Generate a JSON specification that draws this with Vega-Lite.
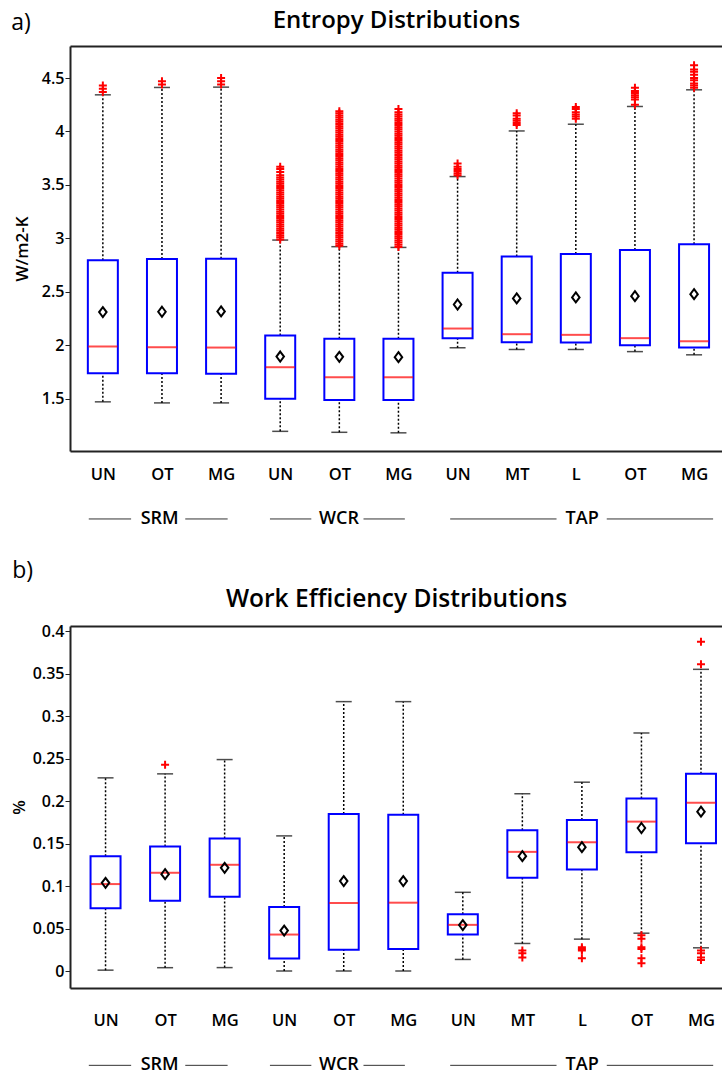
{
"$schema": "https://vega.github.io/schema/vega-lite/v6.json",
"background": "white",
"padding": {"left": 10, "top": 8, "right": 0, "bottom": 0},
"datasets": {
"a": [
{"p":1,"lw":1.47,"q1":1.738,"med":1.988,"q3":2.794,"uw":4.343,"mean":2.31},
{"p":2,"lw":1.46,"q1":1.738,"med":1.981,"q3":2.806,"uw":4.412,"mean":2.313},
{"p":3,"lw":1.46,"q1":1.732,"med":1.978,"q3":2.81,"uw":4.415,"mean":2.316},
{"p":4,"lw":1.194,"q1":1.5,"med":1.794,"q3":2.091,"uw":2.984,"mean":1.894},
{"p":5,"lw":1.185,"q1":1.488,"med":1.7,"q3":2.06,"uw":2.922,"mean":1.891},
{"p":6,"lw":1.18,"q1":1.488,"med":1.7,"q3":2.06,"uw":2.915,"mean":1.888},
{"p":7,"lw":1.976,"q1":2.066,"med":2.156,"q3":2.678,"uw":3.578,"mean":2.381},
{"p":8,"lw":1.96,"q1":2.028,"med":2.103,"q3":2.831,"uw":4.005,"mean":2.438},
{"p":9,"lw":1.96,"q1":2.025,"med":2.097,"q3":2.853,"uw":4.068,"mean":2.447},
{"p":10,"lw":1.94,"q1":2.0,"med":2.066,"q3":2.89,"uw":4.234,"mean":2.459},
{"p":11,"lw":1.91,"q1":1.978,"med":2.037,"q3":2.944,"uw":4.39,"mean":2.478}
],
"ao": [
{"p":1,"v":4.37},{"p":1,"v":4.40},{"p":1,"v":4.43},
{"p":2,"v":4.44},{"p":2,"v":4.47},
{"p":3,"v":4.44},{"p":3,"v":4.47},{"p":3,"v":4.50},
{"p":4,"v":2.99},{"p":4,"v":3.01},{"p":4,"v":3.03},{"p":4,"v":3.05},{"p":4,"v":3.07},{"p":4,"v":3.09},{"p":4,"v":3.11},{"p":4,"v":3.13},{"p":4,"v":3.15},{"p":4,"v":3.17},{"p":4,"v":3.19},{"p":4,"v":3.21},{"p":4,"v":3.23},{"p":4,"v":3.25},{"p":4,"v":3.27},{"p":4,"v":3.29},{"p":4,"v":3.31},{"p":4,"v":3.33},{"p":4,"v":3.35},{"p":4,"v":3.37},{"p":4,"v":3.39},{"p":4,"v":3.41},{"p":4,"v":3.43},{"p":4,"v":3.45},{"p":4,"v":3.47},{"p":4,"v":3.49},{"p":4,"v":3.51},{"p":4,"v":3.53},{"p":4,"v":3.55},{"p":4,"v":3.57},{"p":4,"v":3.59},{"p":4,"v":3.62},{"p":4,"v":3.65},{"p":4,"v":3.67},
{"p":5,"v":2.93},{"p":5,"v":2.95},{"p":5,"v":2.97},{"p":5,"v":2.99},{"p":5,"v":3.01},{"p":5,"v":3.03},{"p":5,"v":3.05},{"p":5,"v":3.07},{"p":5,"v":3.09},{"p":5,"v":3.11},{"p":5,"v":3.13},{"p":5,"v":3.15},{"p":5,"v":3.17},{"p":5,"v":3.19},{"p":5,"v":3.21},{"p":5,"v":3.23},{"p":5,"v":3.25},{"p":5,"v":3.27},{"p":5,"v":3.29},{"p":5,"v":3.31},{"p":5,"v":3.33},{"p":5,"v":3.35},{"p":5,"v":3.37},{"p":5,"v":3.39},{"p":5,"v":3.41},{"p":5,"v":3.43},{"p":5,"v":3.45},{"p":5,"v":3.47},{"p":5,"v":3.49},{"p":5,"v":3.51},{"p":5,"v":3.53},{"p":5,"v":3.55},{"p":5,"v":3.57},{"p":5,"v":3.59},{"p":5,"v":3.61},{"p":5,"v":3.63},{"p":5,"v":3.65},{"p":5,"v":3.67},{"p":5,"v":3.69},{"p":5,"v":3.71},{"p":5,"v":3.73},{"p":5,"v":3.75},{"p":5,"v":3.77},{"p":5,"v":3.79},{"p":5,"v":3.81},{"p":5,"v":3.83},{"p":5,"v":3.85},{"p":5,"v":3.87},{"p":5,"v":3.89},{"p":5,"v":3.91},{"p":5,"v":3.93},{"p":5,"v":3.95},{"p":5,"v":3.97},{"p":5,"v":3.99},{"p":5,"v":4.01},{"p":5,"v":4.03},{"p":5,"v":4.05},{"p":5,"v":4.07},{"p":5,"v":4.09},{"p":5,"v":4.11},{"p":5,"v":4.13},{"p":5,"v":4.15},{"p":5,"v":4.17},{"p":5,"v":4.19},
{"p":6,"v":2.92},{"p":6,"v":2.94},{"p":6,"v":2.96},{"p":6,"v":2.98},{"p":6,"v":3.00},{"p":6,"v":3.02},{"p":6,"v":3.04},{"p":6,"v":3.06},{"p":6,"v":3.08},{"p":6,"v":3.10},{"p":6,"v":3.12},{"p":6,"v":3.14},{"p":6,"v":3.16},{"p":6,"v":3.18},{"p":6,"v":3.20},{"p":6,"v":3.22},{"p":6,"v":3.24},{"p":6,"v":3.26},{"p":6,"v":3.28},{"p":6,"v":3.30},{"p":6,"v":3.32},{"p":6,"v":3.34},{"p":6,"v":3.36},{"p":6,"v":3.38},{"p":6,"v":3.40},{"p":6,"v":3.42},{"p":6,"v":3.44},{"p":6,"v":3.46},{"p":6,"v":3.48},{"p":6,"v":3.50},{"p":6,"v":3.52},{"p":6,"v":3.54},{"p":6,"v":3.56},{"p":6,"v":3.58},{"p":6,"v":3.60},{"p":6,"v":3.62},{"p":6,"v":3.64},{"p":6,"v":3.66},{"p":6,"v":3.68},{"p":6,"v":3.70},{"p":6,"v":3.72},{"p":6,"v":3.74},{"p":6,"v":3.76},{"p":6,"v":3.78},{"p":6,"v":3.80},{"p":6,"v":3.82},{"p":6,"v":3.84},{"p":6,"v":3.86},{"p":6,"v":3.88},{"p":6,"v":3.90},{"p":6,"v":3.92},{"p":6,"v":3.94},{"p":6,"v":3.96},{"p":6,"v":3.98},{"p":6,"v":4.00},{"p":6,"v":4.02},{"p":6,"v":4.04},{"p":6,"v":4.06},{"p":6,"v":4.08},{"p":6,"v":4.10},{"p":6,"v":4.12},{"p":6,"v":4.14},{"p":6,"v":4.16},{"p":6,"v":4.18},{"p":6,"v":4.21},
{"p":7,"v":3.59},{"p":7,"v":3.61},{"p":7,"v":3.63},{"p":7,"v":3.65},{"p":7,"v":3.67},{"p":7,"v":3.70},
{"p":8,"v":4.06},{"p":8,"v":4.08},{"p":8,"v":4.10},{"p":8,"v":4.12},{"p":8,"v":4.15},{"p":8,"v":4.17},
{"p":9,"v":4.12},{"p":9,"v":4.14},{"p":9,"v":4.16},{"p":9,"v":4.18},{"p":9,"v":4.21},{"p":9,"v":4.23},
{"p":10,"v":4.25},{"p":10,"v":4.30},{"p":10,"v":4.32},{"p":10,"v":4.34},{"p":10,"v":4.36},{"p":10,"v":4.38},{"p":10,"v":4.41},
{"p":11,"v":4.41},{"p":11,"v":4.43},{"p":11,"v":4.45},{"p":11,"v":4.48},{"p":11,"v":4.50},{"p":11,"v":4.53},{"p":11,"v":4.56},{"p":11,"v":4.58},{"p":11,"v":4.62}
],
"b": [
{"p":1,"lw":0.001,"q1":0.0738,"med":0.1023,"q3":0.1351,"uw":0.2273,"mean":0.1038},
{"p":2,"lw":0.0039,"q1":0.0827,"med":0.1156,"q3":0.1465,"uw":0.232,"mean":0.114},
{"p":3,"lw":0.004,"q1":0.0875,"med":0.125,"q3":0.1559,"uw":0.2488,"mean":0.1214},
{"p":4,"lw":0.0,"q1":0.0148,"med":0.0429,"q3":0.0754,"uw":0.159,"mean":0.0476},
{"p":5,"lw":0.0,"q1":0.025,"med":0.08,"q3":0.1847,"uw":0.317,"mean":0.1058},
{"p":6,"lw":0.0,"q1":0.0258,"med":0.0804,"q3":0.184,"uw":0.317,"mean":0.1058},
{"p":7,"lw":0.0136,"q1":0.0429,"med":0.0543,"q3":0.0668,"uw":0.0926,"mean":0.054},
{"p":8,"lw":0.0324,"q1":0.1097,"med":0.1402,"q3":0.1656,"uw":0.2086,"mean":0.1351},
{"p":9,"lw":0.0375,"q1":0.1195,"med":0.1515,"q3":0.1777,"uw":0.2222,"mean":0.1457},
{"p":10,"lw":0.0445,"q1":0.1398,"med":0.1758,"q3":0.2031,"uw":0.2801,"mean":0.1683},
{"p":11,"lw":0.0273,"q1":0.1504,"med":0.198,"q3":0.232,"uw":0.355,"mean":0.1875}
],
"bo": [
{"p":2,"v":0.2426},
{"p":8,"v":0.024},{"p":8,"v":0.021},{"p":8,"v":0.016},
{"p":9,"v":0.028},{"p":9,"v":0.026},{"p":9,"v":0.024},{"p":9,"v":0.015},
{"p":10,"v":0.042},{"p":10,"v":0.038},{"p":10,"v":0.028},{"p":10,"v":0.026},{"p":10,"v":0.015},{"p":10,"v":0.009},
{"p":11,"v":0.361},{"p":11,"v":0.3875},{"p":11,"v":0.024},{"p":11,"v":0.021},{"p":11,"v":0.016},{"p":11,"v":0.013}
],
"ga": [
{"name":"SRM","c":1.961,"l1":0.762,"l2":1.478,"r1":2.394,"r2":3.111},
{"name":"WCR","c":4.993,"l1":3.827,"l2":4.526,"r1":5.409,"r2":6.108},
{"name":"TAP","c":9.107,"l1":6.875,"l2":8.674,"r1":9.523,"r2":11.322}
],
"gb": [
{"name":"SRM","c":1.909,"l1":0.719,"l2":1.430,"r1":2.339,"r2":3.050},
{"name":"WCR","c":4.919,"l1":3.761,"l2":4.456,"r1":5.332,"r2":6.027},
{"name":"TAP","c":9.004,"l1":6.788,"l2":8.574,"r1":9.418,"r2":11.205}
]
},
"vconcat": [
{
"width": 652, "height": 405,
"title": {"text": "a)", "anchor": "start", "frame": "bounds", "fontSize": 23, "fontWeight": 400, "dy": 27, "dx": -2, "offset": 0},
"layer": [
{"data": {"name": "a"}, "mark": {"type": "rule", "strokeDash": [2, 2], "strokeWidth": 1.5, "color": "#000"},
 "encoding": {
  "x": {"field": "p", "type": "quantitative", "scale": {"domain": [0.529, 11.388], "nice": false, "zero": false},
        "axis": {"orient": "bottom", "values": [1,2,3,4,5,6,7,8,9,10,11], "labelExpr": "['UN','OT','MG','UN','OT','MG','UN','MT','L','OT','MG'][datum.value-1]", "ticks": false, "labelPadding": 15, "title": null}},
  "y": {"field": "q3", "type": "quantitative", "scale": {"domain": [1.01, 4.8], "nice": false, "zero": false},
        "axis": {"values": [1.5,2,2.5,3,3.5,4,4.5], "format": "~g", "title": "W/m2-K", "titlePadding": 10, "tickSize": 5, "labelPadding": 1}},
  "y2": {"field": "uw"}}},
{"data": {"name": "a"}, "mark": {"type": "rule", "strokeDash": [2, 2], "strokeWidth": 1.5, "color": "#000"},
 "encoding": {
  "x": {"field": "p", "type": "quantitative", "axis": {"orient": "top", "labels": false, "ticks": false, "title": "Entropy Distributions", "titleFontSize": 24, "titlePadding": 14}},
  "y": {"field": "lw", "type": "quantitative"},
  "y2": {"field": "q1"}}},
{"data": {"name": "a"}, "mark": {"type": "tick", "orient": "horizontal", "size": 16, "thickness": 1.5, "color": "#000"},
 "encoding": {"x": {"field": "p", "type": "quantitative", "axis": null}, "y": {"field": "lw", "type": "quantitative"}}},
{"data": {"name": "a"}, "mark": {"type": "tick", "orient": "horizontal", "size": 16, "thickness": 1.5, "color": "#000"},
 "encoding": {"x": {"field": "p", "type": "quantitative", "axis": null}, "y": {"field": "uw", "type": "quantitative"}}},
{"data": {"name": "a"}, "mark": {"type": "bar", "size": 30, "fill": "#ffffff", "stroke": "#0000ff", "strokeWidth": 2},
 "encoding": {"x": {"field": "p", "type": "quantitative", "axis": null}, "y": {"field": "q1", "type": "quantitative"}, "y2": {"field": "q3"}}},
{"data": {"name": "a"}, "mark": {"type": "tick", "orient": "horizontal", "size": 29, "thickness": 2, "color": "#ff0000"},
 "encoding": {"x": {"field": "p", "type": "quantitative", "axis": null}, "y": {"field": "med", "type": "quantitative"}}},
{"data": {"name": "a"}, "mark": {"type": "point", "shape": "M0,-1L0.75,0L0,1L-0.75,0Z", "size": 100, "filled": false, "color": "#000", "strokeWidth": 2, "opacity": 1},
 "encoding": {"x": {"field": "p", "type": "quantitative", "axis": null}, "y": {"field": "mean", "type": "quantitative"}}},
{"data": {"name": "ao"}, "mark": {"type": "point", "shape": "M-1,0L1,0M0,-1L0,1", "size": 64, "filled": false, "color": "#ff0000", "strokeWidth": 2, "opacity": 1},
 "encoding": {"x": {"field": "p", "type": "quantitative", "axis": null}, "y": {"field": "v", "type": "quantitative"}}},
{"data": {"name": "ga"}, "mark": {"type": "rule", "color": "#333", "strokeWidth": 1},
 "encoding": {"x": {"field": "l1", "type": "quantitative", "axis": null}, "x2": {"field": "l2"}, "y": {"datum": 0.374, "type": "quantitative"}}},
{"data": {"name": "ga"}, "mark": {"type": "rule", "color": "#333", "strokeWidth": 1},
 "encoding": {"x": {"field": "r1", "type": "quantitative", "axis": null}, "x2": {"field": "r2"}, "y": {"datum": 0.374, "type": "quantitative"}}},
{"data": {"name": "ga"}, "mark": {"type": "text", "fontSize": 18, "fontWeight": 600, "baseline": "middle", "color": "#000"},
 "encoding": {"x": {"field": "c", "type": "quantitative", "axis": null}, "y": {"datum": 0.374, "type": "quantitative"}, "text": {"field": "name"}}}
],
"resolve": {"axis": {"x": "independent"}}
},
{
"width": 652, "height": 362,
"title": {"text": "b)", "anchor": "start", "frame": "bounds", "fontSize": 23, "fontWeight": 400, "offset": 6, "dx": 2, "dy": 3},
"layer": [
{"data": {"name": "b"}, "mark": {"type": "rule", "strokeDash": [2, 2], "strokeWidth": 1.5, "color": "#000"},
 "encoding": {
  "x": {"field": "p", "type": "quantitative", "scale": {"domain": [0.487, 11.269], "nice": false, "zero": false},
        "axis": {"orient": "bottom", "values": [1,2,3,4,5,6,7,8,9,10,11], "labelExpr": "['UN','OT','MG','UN','OT','MG','UN','MT','L','OT','MG'][datum.value-1]", "ticks": false, "labelPadding": 24, "title": null}},
  "y": {"field": "q3", "type": "quantitative", "scale": {"domain": [-0.02, 0.406], "nice": false, "zero": false},
        "axis": {"values": [0,0.05,0.1,0.15,0.2,0.25,0.3,0.35,0.4], "format": "~g", "title": "%", "titlePadding": 4, "tickSize": 5, "labelPadding": 1}},
  "y2": {"field": "uw"}}},
{"data": {"name": "b"}, "mark": {"type": "rule", "strokeDash": [2, 2], "strokeWidth": 1.5, "color": "#000"},
 "encoding": {
  "x": {"field": "p", "type": "quantitative", "axis": {"orient": "top", "labels": false, "ticks": false, "title": "Work Efficiency Distributions", "titleFontSize": 24.5, "titlePadding": 15}},
  "y": {"field": "lw", "type": "quantitative"},
  "y2": {"field": "q1"}}},
{"data": {"name": "b"}, "mark": {"type": "tick", "orient": "horizontal", "size": 16, "thickness": 1.5, "color": "#000"},
 "encoding": {"x": {"field": "p", "type": "quantitative", "axis": null}, "y": {"field": "lw", "type": "quantitative"}}},
{"data": {"name": "b"}, "mark": {"type": "tick", "orient": "horizontal", "size": 16, "thickness": 1.5, "color": "#000"},
 "encoding": {"x": {"field": "p", "type": "quantitative", "axis": null}, "y": {"field": "uw", "type": "quantitative"}}},
{"data": {"name": "b"}, "mark": {"type": "bar", "size": 30, "fill": "#ffffff", "stroke": "#0000ff", "strokeWidth": 2},
 "encoding": {"x": {"field": "p", "type": "quantitative", "axis": null}, "y": {"field": "q1", "type": "quantitative"}, "y2": {"field": "q3"}}},
{"data": {"name": "b"}, "mark": {"type": "tick", "orient": "horizontal", "size": 29, "thickness": 2, "color": "#ff0000"},
 "encoding": {"x": {"field": "p", "type": "quantitative", "axis": null}, "y": {"field": "med", "type": "quantitative"}}},
{"data": {"name": "b"}, "mark": {"type": "point", "shape": "M0,-1L0.75,0L0,1L-0.75,0Z", "size": 100, "filled": false, "color": "#000", "strokeWidth": 2, "opacity": 1},
 "encoding": {"x": {"field": "p", "type": "quantitative", "axis": null}, "y": {"field": "mean", "type": "quantitative"}}},
{"data": {"name": "bo"}, "mark": {"type": "point", "shape": "M-1,0L1,0M0,-1L0,1", "size": 64, "filled": false, "color": "#ff0000", "strokeWidth": 2, "opacity": 1},
 "encoding": {"x": {"field": "p", "type": "quantitative", "axis": null}, "y": {"field": "v", "type": "quantitative"}}},
{"data": {"name": "gb"}, "mark": {"type": "rule", "color": "#333", "strokeWidth": 1},
 "encoding": {"x": {"field": "l1", "type": "quantitative", "axis": null}, "x2": {"field": "l2"}, "y": {"datum": -0.111, "type": "quantitative"}}},
{"data": {"name": "gb"}, "mark": {"type": "rule", "color": "#333", "strokeWidth": 1},
 "encoding": {"x": {"field": "r1", "type": "quantitative", "axis": null}, "x2": {"field": "r2"}, "y": {"datum": -0.111, "type": "quantitative"}}},
{"data": {"name": "gb"}, "mark": {"type": "text", "fontSize": 18, "fontWeight": 600, "baseline": "middle", "color": "#000"},
 "encoding": {"x": {"field": "c", "type": "quantitative", "axis": null}, "y": {"datum": -0.111, "type": "quantitative"}, "text": {"field": "name"}}}
],
"resolve": {"axis": {"x": "independent"}}
}
],
"spacing": 32,
"resolve": {"scale": {"x": "independent", "y": "independent"}},
"config": {
 "view": {"stroke": null},
 "font": "Open Sans",
 "axis": {"grid": false, "labelFont": "Open Sans", "titleFont": "Open Sans", "labelColor": "#000", "titleColor": "#000", "labelFontSize": 16.5, "labelFontWeight": 600, "titleFontSize": 17, "titleFontWeight": 600, "domainColor": "#222", "domainWidth": 2, "tickColor": "#222"},
 "axisY": {"labelFontSize": 16},
 "title": {"font": "Open Sans", "color": "#000"},
 "text": {"font": "Open Sans"}
}
}
